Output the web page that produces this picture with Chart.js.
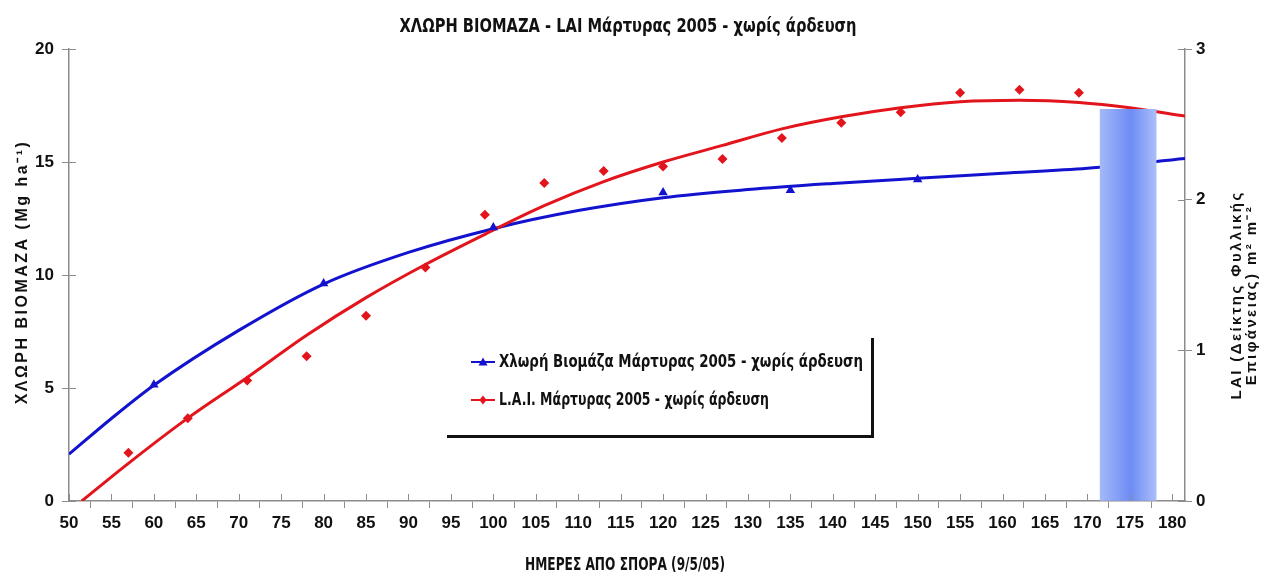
<!DOCTYPE html>
<html>
<head>
<meta charset="utf-8">
<script src="https://cdn.jsdelivr.net/npm/chart.js@4"></script>
<style>
  html, body { margin: 0; padding: 0; background: #fff; }
  #wrap { width: 1261px; height: 581px; }
</style>
</head>
<body>
<div id="wrap"><canvas id="biomassChart"></canvas></div>
<script>
// axis ticks
const dayTicks = [50, 55, 60, 65, 70, 75, 80, 85, 90, 95, 100, 105, 110, 115, 120, 125, 130, 135, 140, 145, 150, 155, 160, 165, 170, 175, 180];
const biomassTicks = [0, 5, 10, 15, 20];
const laiTicks = [0, 1, 2, 3];

// green biomass (Mg/ha), left axis
const biomassDays = [60, 80, 100, 120, 135, 150];
const biomassValues = [5.14, 9.62, 12.1, 13.65, 13.75, 14.23];

// LAI (m2/m2), right axis
const laiDays = [57, 64, 71, 78, 85, 92, 99, 106, 113, 120, 127, 134, 141, 148, 155, 162, 169];
const laiValues = [0.32, 0.55, 0.80, 0.96, 1.23, 1.55, 1.90, 2.11, 2.19, 2.22, 2.27, 2.41, 2.51, 2.58, 2.71, 2.73, 2.71];

// trend lines
const biomassTrendDays = [50, 55, 60, 70, 80, 90, 100, 110, 120, 130, 140, 150, 160, 170, 181.5];
const biomassTrendValues = [2.07, 3.65, 5.12, 7.55, 9.6, 11.0, 12.05, 12.85, 13.42, 13.78, 14.05, 14.28, 14.5, 14.72, 15.15];
const laiTrendDays = [51.5, 57, 64, 71, 78, 85, 92, 99, 106, 113, 120, 127, 134, 141, 148, 155, 162, 169, 175, 181.5];
const laiTrendValues = [0, 0.25, 0.55, 0.82, 1.10, 1.35, 1.57, 1.77, 1.96, 2.12, 2.25, 2.36, 2.47, 2.55, 2.61, 2.65, 2.66, 2.645, 2.61, 2.555];

// harvest window
const harvestDays = [174.8];
const harvestLai = [2.6];

const chartTitle = "ΧΛΩΡΗ ΒΙΟΜΑΖΑ - LAI Μάρτυρας 2005 - χωρίς άρδευση";
const xTitle = "ΗΜΕΡΕΣ ΑΠΟ ΣΠΟΡΑ (9/5/05)";
const biomassLabel = "Χλωρή Βιομάζα Μάρτυρας 2005 - χωρίς άρδευση";
const laiLabel = "L.A.I. Μάρτυρας 2005 - χωρίς άρδευση";

const condensed = "'DejaVu Sans Condensed', 'Liberation Sans', sans-serif";
const wide = "'Liberation Sans', Arial, sans-serif";
const blue = "#1212cf";
const red = "#e3151c";
const axisGrey = "#8c8c8c";

const pts = (xs, ys) => xs.map((x, i) => ({ x: x, y: ys[i] }));

function drawMarker(ctx, style, x, y, r, color) {
  ctx.fillStyle = color;
  ctx.beginPath();
  if (style === "triangle") {
    ctx.moveTo(x, y - r);
    ctx.lineTo(x + r, y + r * 0.8);
    ctx.lineTo(x - r, y + r * 0.8);
  } else {
    ctx.moveTo(x, y - r);
    ctx.lineTo(x + r * 0.8, y);
    ctx.lineTo(x, y + r);
    ctx.lineTo(x - r * 0.8, y);
  }
  ctx.closePath();
  ctx.fill();
}

// narrow lettering: squeeze the text horizontally into a given width
function fitText(ctx, text, x, y, width) {
  const w = ctx.measureText(text).width;
  ctx.save();
  ctx.translate(x, y);
  ctx.scale(width / w, 1);
  ctx.fillText(text, 0, 0);
  ctx.restore();
}

const decor = {
  id: "decor",
  afterDraw(chart) {
    const ctx = chart.ctx;
    const a = chart.chartArea;
    const sx = chart.scales.x, sy = chart.scales.y, sy2 = chart.scales.y2;
    ctx.save();

    // ticks cross the axis lines
    ctx.strokeStyle = axisGrey;
    ctx.lineWidth = 1;
    ctx.beginPath();
    sx.ticks.forEach(t => { const p = Math.round(sx.getPixelForValue(t.value)) + 0.5; ctx.moveTo(p, a.bottom); ctx.lineTo(p, a.bottom - 7); });
    sy.ticks.forEach(t => { const p = Math.round(sy.getPixelForValue(t.value)) + 0.5; ctx.moveTo(a.left, p); ctx.lineTo(a.left + 7, p); });
    sy2.ticks.forEach(t => { const p = Math.round(sy2.getPixelForValue(t.value)) + 0.5; ctx.moveTo(a.right, p); ctx.lineTo(a.right - 7, p); });
    ctx.stroke();

    // titles
    ctx.fillStyle = "#111";
    ctx.textAlign = "center";
    ctx.textBaseline = "middle";
    ctx.font = "bold 20px " + condensed;
    fitText(ctx, chartTitle, 628, 27, 457);
    ctx.font = "bold 17px " + condensed;
    fitText(ctx, xTitle, 625, 566, 200);

    // axis titles, read bottom to top
    ctx.font = "bold 16px " + wide;
    ctx.letterSpacing = "2.5px";
    ctx.save();
    ctx.translate(23, 272);
    ctx.rotate(-Math.PI / 2);
    ctx.fillText("ΧΛΩΡΗ ΒΙΟΜΑΖΑ (Mg ha⁻¹)", 0, 0);
    ctx.restore();

    ctx.font = "bold 15px " + wide;
    ctx.letterSpacing = "2.4px";
    ctx.save();
    ctx.translate(1237, 295);
    ctx.rotate(-Math.PI / 2);
    ctx.fillText("LAI (Δείκτης Φυλλικής", 0, 0);
    ctx.fillText("Επιφάνειας) m² m⁻²", 0, 15);
    ctx.restore();
    ctx.letterSpacing = "0px";

    // legend
    ctx.strokeStyle = "#111";
    ctx.lineWidth = 3;
    ctx.beginPath();
    ctx.moveTo(872.5, 338);
    ctx.lineTo(872.5, 437);
    ctx.moveTo(447, 436.5);
    ctx.lineTo(874, 436.5);
    ctx.stroke();

    const items = [
      { text: biomassLabel, color: blue, style: "triangle", y: 362, width: 364 },
      { text: laiLabel, color: red, style: "diamond", y: 400, width: 270 }
    ];
    ctx.textAlign = "left";
    ctx.font = "bold 17px " + condensed;
    items.forEach(it => {
      ctx.strokeStyle = it.color;
      ctx.lineWidth = 2;
      ctx.beginPath();
      ctx.moveTo(471, it.y);
      ctx.lineTo(495, it.y);
      ctx.stroke();
      drawMarker(ctx, it.style, 483, it.y, 4.5, it.color);
      ctx.fillStyle = "#111";
      fitText(ctx, it.text, 499, it.y + 1, it.width);
    });

    ctx.restore();
  }
};

const tickFont = { family: wide, size: 17, weight: "bold" };

new Chart(document.getElementById("biomassChart"), {
  type: "scatter",
  data: {
    datasets: [
      {
        type: "bar",
        label: "harvest",
        data: pts(harvestDays, harvestLai),
        yAxisID: "y2",
        barThickness: 56,
        borderWidth: 0,
        order: 0,
        backgroundColor: (c) => {
          const chart = c.chart;
          if (!chart.chartArea) return "#8aa3f6";
          const cx = chart.scales.x.getPixelForValue(harvestDays[c.dataIndex] || harvestDays[0]);
          const g = chart.ctx.createLinearGradient(cx - 28, 0, cx + 28, 0);
          g.addColorStop(0, "#a4b8f7");
          g.addColorStop(0.55, "#6d8cf5");
          g.addColorStop(1, "#aabef8");
          return g;
        }
      },
      {
        label: biomassLabel,
        data: pts(biomassDays, biomassValues),
        yAxisID: "y",
        pointStyle: "triangle",
        pointRadius: 5.5,
        backgroundColor: blue,
        borderColor: blue,
        borderWidth: 0,
        order: 1
      },
      {
        label: laiLabel,
        data: pts(laiDays, laiValues),
        yAxisID: "y2",
        pointStyle: "rectRot",
        pointRadius: 5,
        backgroundColor: red,
        borderColor: red,
        borderWidth: 0,
        order: 1
      },
      {
        type: "line",
        label: "biomass trend",
        data: pts(biomassTrendDays, biomassTrendValues),
        yAxisID: "y",
        borderColor: blue,
        borderWidth: 3,
        pointRadius: 0,
        fill: false,
        cubicInterpolationMode: "monotone",
        order: 3
      },
      {
        type: "line",
        label: "LAI trend",
        data: pts(laiTrendDays, laiTrendValues),
        yAxisID: "y2",
        borderColor: red,
        borderWidth: 3,
        pointRadius: 0,
        fill: false,
        cubicInterpolationMode: "monotone",
        order: 2
      }
    ]
  },
  options: {
    responsive: true,
    maintainAspectRatio: false,
    animation: false,
    devicePixelRatio: 1,
    layout: { padding: { top: 49, left: 0, right: 0, bottom: 0 } },
    plugins: {
      legend: { display: false },
      tooltip: { enabled: false },
      title: { display: false }
    },
    scales: {
      x: {
        type: "linear",
        min: 50,
        max: 181.5,
        offset: false,
        afterBuildTicks: (s) => { s.ticks = dayTicks.map(v => ({ value: v })); },
        afterFit: (s) => { s.height = 80; },
        grid: { drawOnChartArea: false, tickLength: 7, color: axisGrey },
        border: { color: axisGrey, width: 1.5 },
        ticks: { font: tickFont, color: "#111", padding: 5, maxRotation: 0, autoSkip: false }
      },
      y: {
        position: "left",
        min: 0,
        max: 20,
        afterBuildTicks: (s) => { s.ticks = biomassTicks.map(v => ({ value: v })); },
        afterFit: (s) => { s.width = 69; },
        grid: { drawOnChartArea: false, tickLength: 7, color: axisGrey },
        border: { color: axisGrey, width: 1.5 },
        ticks: { font: tickFont, color: "#111", padding: 8 }
      },
      y2: {
        position: "right",
        min: 0,
        max: 3,
        afterBuildTicks: (s) => { s.ticks = laiTicks.map(v => ({ value: v })); },
        afterFit: (s) => { s.width = 76; },
        grid: { drawOnChartArea: false, tickLength: 7, color: axisGrey },
        border: { color: axisGrey, width: 1.5 },
        ticks: { font: tickFont, color: "#111", padding: 4 }
      }
    }
  },
  plugins: [decor]
});
</script>
</body>
</html>
